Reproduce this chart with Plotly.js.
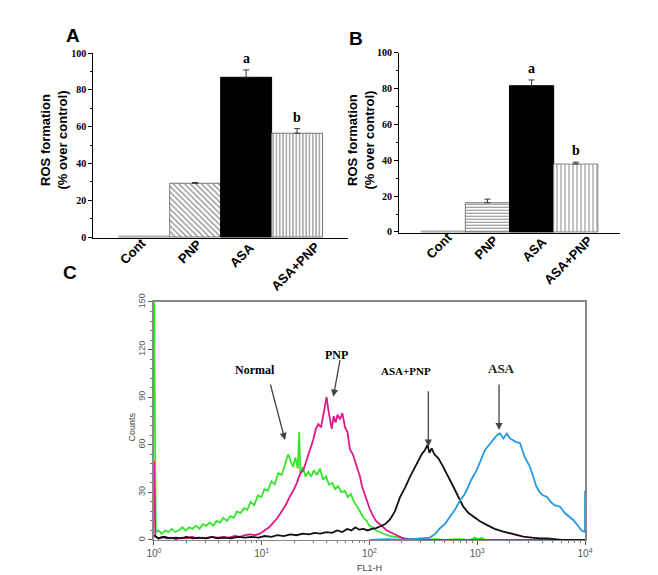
<!DOCTYPE html>
<html>
<head>
<meta charset="utf-8">
<script src="https://cdn.plot.ly/plotly-3.0.1.min.js"></script>
<style>
  html, body { margin: 0; padding: 0; background: #fff; }
  #chart { width: 658px; height: 575px; }
</style>
</head>
<body>
<div id="chart"></div>
<script>
// panel A / B: ROS formation (% over control)
const groups = ['Cont', 'PNP', 'ASA', 'ASA+PNP'];
const rosA = [0.5, 29.2, 86.8, 56.4];
const errA = [0, 0.4, 4.0, 2.5];
const rosB = [0.5, 16.3, 81.6, 37.9];
const errB = [0, 2.0, 3.2, 1.0];
const sigLetters = ['', '', 'a', 'b'];
const rosTicks = [0, 20, 40, 60, 80, 100];

// panel C: flow cytometry histograms (FL1-H vs counts)
const normalX = [1, 1.04, 1.1, 1.18, 1.27, 1.36, 1.46, 1.57, 1.7, 1.83, 1.97, 2.12, 2.28, 2.45, 2.64, 2.84, 3.05, 3.3, 3.55, 3.8, 4.1, 4.4, 4.75, 5.1, 5.5, 5.9, 6.35, 6.85, 7.35, 7.9, 8.5, 9.2, 9.9, 10.6, 11.4, 12.3, 13.2, 14.2, 15.3, 16.4, 17.6, 18.5, 19.5, 20.5, 21.6, 22.3, 22.8, 24, 25.5, 27, 28.7, 30.5, 32.5, 34.7, 37, 39.5, 42, 45, 48, 51, 55, 59, 63, 67, 72, 77, 82, 88, 94, 100, 107, 115, 124, 134, 145, 157, 170, 185, 200, 230, 270, 320, 400, 500, 650, 850, 950, 1020, 1100, 1200, 1500, 3000, 10000];
const normalY = [160, 5, 6, 4, 6, 5, 7, 5, 6, 8, 6, 8, 7, 9, 7, 10, 9, 11, 9, 12, 11, 14, 12, 15, 14, 18, 17, 20, 19, 24, 22, 28, 27, 32, 31, 37, 35, 42, 41, 48, 54, 50, 46, 52, 45, 68, 42, 46, 40, 43, 40, 44, 41, 45, 38, 40, 35, 36, 32, 34, 30, 31, 27, 29, 24, 21, 18, 14, 12, 9, 8, 6, 5, 4, 3, 2.5, 2, 1.5, 1, 0.5, 0.5, 0, 0.5, 0, 0.5, 0, 1.5, 0.5, 1.2, 0, 0, 0, 0];

const pnpX = [1, 1.03, 1.1, 1.2, 1.3, 1.45, 1.6, 1.8, 2.0, 2.25, 2.5, 2.8, 3.1, 3.5, 3.9, 4.4, 5, 5.6, 6.3, 7, 7.8, 8.7, 9.6, 10.6, 11.7, 12.8, 14, 15.3, 16.7, 18.1, 19.6, 21.2, 22.8, 24.3, 26, 28, 30, 31.8, 33.5, 35.5, 37.5, 39, 40, 41.5, 43, 44.6, 46.5, 48.5, 50.5, 53.2, 56, 59.3, 62.5, 65.9, 70, 73, 76, 79, 81.6, 85, 89, 94, 100, 108, 115, 124, 134, 145, 155, 170, 185, 203, 230, 280, 400, 10000];
const pnpY = [50, 2, 1, 2, 1, 1.5, 0.5, 1.5, 1, 2, 1, 1.5, 1, 2, 1.5, 2, 1.5, 2.5, 2, 3, 3.5, 3, 4, 6, 8, 11, 14, 18, 22, 27, 31, 36, 42, 44, 50, 58, 63, 70, 73, 71, 80, 84, 90, 82, 76, 70, 78, 74, 79, 76, 80, 71, 68, 57, 54, 50, 46, 42, 40, 34, 30, 25, 20, 15, 12, 10, 8, 6, 5, 3.5, 2.5, 1.2, 0.5, 0, 0, 0];

const comboX = [1, 1.1, 1.25, 1.4, 1.6, 1.8, 2, 2.3, 2.6, 3, 3.4, 3.9, 4.5, 5.2, 6, 7, 8, 9.3, 10.7, 12.3, 14, 16, 18.5, 21, 24, 27.5, 31, 35, 40, 45, 50, 56, 62, 68, 74, 80, 88, 96, 105, 115, 125, 140, 155, 172, 192, 214, 238, 260, 284, 305, 327, 345, 360, 378, 400, 436, 475, 520, 570, 622, 680, 742, 830, 918, 1050, 1224, 1450, 1746, 2100, 2675, 3200, 3800, 4500, 5200, 6000, 10000];
const comboY = [3, 1, 2, 1, 1.5, 1, 2, 1, 1.5, 1, 2, 1, 1.5, 1, 2, 1.5, 2, 1.5, 2.5, 2, 3, 2.5, 3.5, 3, 4, 3.5, 4.5, 4, 5, 4.5, 6, 5, 7, 6, 8, 6.5, 7, 6, 7, 7.5, 8.5, 10, 13, 18, 27, 33, 40, 45, 50, 54, 56.7, 60, 55, 57.7, 54, 51.5, 47, 42, 36, 31.5, 26, 21, 17, 14.7, 12, 9.5, 7, 5.3, 4, 2.1, 1.5, 1, 1, 0.5, 0, 0];

const asaX = [100, 150, 200, 255, 300, 364, 410, 451, 500, 559, 620, 692, 750, 798, 880, 988, 1080, 1180, 1290, 1410, 1520, 1626, 1750, 1880, 2014, 2250, 2494, 2766, 3090, 3300, 3524, 3800, 4100, 4413, 4800, 5200, 5860, 6500, 7000, 7770, 8600, 9300, 9990, 10000];
const asaY = [0, 0.5, 0, 0.7, 1, 1.5, 4, 7.4, 10, 14.7, 19, 25, 28, 31.5, 38, 44, 50, 56.7, 60, 63, 66, 67.2, 64, 67, 64, 62, 61, 52, 46, 40, 34, 30, 28, 27.3, 24, 22, 21, 17, 15, 12.6, 9, 6, 5, 31];

const decadeTicks = [1, 10, 100, 1000, 10000];
const decadeLabels = ['10<sup>0</sup>', '10<sup>1</sup>', '10<sup>2</sup>', '10<sup>3</sup>', '10<sup>4</sup>'];
const countTicks = [0, 30, 60, 90, 120, 150];

const SANS = 'Arial, "Liberation Sans", sans-serif';
const SERIF = '"Times New Roman", "Liberation Serif", serif';
const H = 575;

// fill style of each group's bar (A, B)
const styleA = [
  { bg: 'white', line: '#999', shape: '', fg: '#888', size: 4 },
  { bg: 'white', line: '#777', shape: '\\', fg: '#888', size: 4 },
  { bg: 'black', line: '#000', shape: '', fg: '#000', size: 4 },
  { bg: 'white', line: '#777', shape: '|', fg: '#777', size: 3.3 }
];
const styleB = [
  { bg: 'white', line: '#999', shape: '', fg: '#888', size: 4 },
  { bg: 'white', line: '#777', shape: '-', fg: '#777', size: 3 },
  { bg: 'black', line: '#000', shape: '', fg: '#000', size: 4 },
  { bg: 'white', line: '#888', shape: '|', fg: '#999', size: 4 }
];
// rotated group label placement (x shift from bar centre, label centre y in px)
const labelPosA = [[-11.5, 251.5], [-5.5, 251], [-4.5, 255.5], [-2, 266]];
const labelPosB = [[-4, 245.5], [-1, 247.5], [2.5, 249], [-8, 260]];

function barTraces(vals, errs, xa, ya, styles) {
  return groups.map((g, i) => {
    const st = styles[i];
    const marker = { color: st.bg, line: { color: st.line, width: 1 } };
    if (st.shape) marker.pattern = { shape: st.shape, fgcolor: st.fg, bgcolor: st.bg, size: st.size, solidity: 0.3, fillmode: 'replace' };
    return {
      type: 'bar', x: [g], y: [vals[i]], xaxis: xa, yaxis: ya, width: 1, marker: marker,
      error_y: { type: 'data', symmetric: false, array: [errs[i]], arrayminus: [0],
                 color: '#333', thickness: 1, width: 3, visible: errs[i] > 0 },
      hoverinfo: 'skip'
    };
  });
}

const traces = [].concat(
  barTraces(rosA, errA, 'x', 'y', styleA),
  barTraces(rosB, errB, 'x2', 'y2', styleB),
  [
    { type: 'scatter', mode: 'lines', x: normalX, y: normalY, xaxis: 'x3', yaxis: 'y3', line: { color: '#33e62a', width: 1.8 } },
    { type: 'scatter', mode: 'lines', x: pnpX, y: pnpY, xaxis: 'x3', yaxis: 'y3', line: { color: '#e0168a', width: 1.8 } },
    { type: 'scatter', mode: 'lines', x: comboX, y: comboY, xaxis: 'x3', yaxis: 'y3', line: { color: '#111', width: 1.8 } },
    { type: 'scatter', mode: 'lines', x: asaX, y: asaY, xaxis: 'x3', yaxis: 'y3', line: { color: '#2399e0', width: 1.8 } }
  ]
);

function rosY(domain, bottom, anchor) {
  return {
    domain: domain, anchor: anchor, range: [bottom, 100], tickmode: 'array', tickvals: rosTicks,
    ticks: 'outside', ticklen: 4, tickcolor: '#000', showline: true, linecolor: '#000', linewidth: 1,
    minor: { dtick: 10, ticks: 'outside', ticklen: 2, tickcolor: '#000' },
    tickfont: { family: SERIF, size: 10, weight: 'bold', color: '#000' },
    showgrid: false, zeroline: false, fixedrange: true
  };
}
function groupX(domain, anchor) {
  return {
    domain: domain, anchor: anchor, type: 'category', range: [-1, 4],
    showline: true, linecolor: '#000', linewidth: 1, ticks: '', showticklabels: false,
    showgrid: false, zeroline: false, fixedrange: true
  };
}

function paperText(text, x, y, font, angle) {
  return { text: text, x: x, y: y, xref: 'paper', yref: 'paper', xanchor: 'center', yanchor: 'middle',
           textangle: angle || 0, showarrow: false, font: font };
}

const annotations = [
  paperText('A', 0.1102, 0.9374, { family: SANS, size: 19, weight: 'bold', color: '#000' }),
  paperText('B', 0.5403, 0.933, { family: SANS, size: 19, weight: 'bold', color: '#000' }),
  paperText('C', 0.1071, 0.5261, { family: SANS, size: 19, weight: 'bold', color: '#000' }),
  paperText('ROS formation<br>(% over control)', 0.0828, 0.7565, { family: SANS, size: 13, weight: 'bold', color: '#000' }, -90),
  paperText('ROS formation<br>(% over control)', 0.5494, 0.7565, { family: SANS, size: 13, weight: 'bold', color: '#000' }, -90),
  paperText('Counts', 0.2002, 0.2579, { family: SANS, size: 9, color: '#444' }, -90),
  paperText('FL1-H', 0.5623, 0.0116, { family: SANS, size: 9, color: '#444' }),
  // histogram labels
  { text: 'Normal', x: 0.937, y: 107, xref: 'x3', yref: 'y3', showarrow: false, font: { family: SERIF, size: 12, weight: 'bold', color: '#000' } },
  { text: 'PNP', x: 1.696, y: 116.6, xref: 'x3', yref: 'y3', showarrow: false, font: { family: SERIF, size: 12, weight: 'bold', color: '#000' } },
  { text: 'ASA+PNP', x: 2.343, y: 106.5, xref: 'x3', yref: 'y3', showarrow: false, bgcolor: 'white', font: { family: SERIF, size: 11, weight: 'bold', color: '#000' } },
  { text: 'ASA', x: 3.227, y: 108.2, xref: 'x3', yref: 'y3', showarrow: false, font: { family: SERIF, size: 13, weight: 'bold', color: '#222' } }
];

// rotated group names under the bars
[[labelPosA, 'x'], [labelPosB, 'x2']].forEach(p => {
  groups.forEach((g, i) => {
    annotations.push({ text: g, x: g, xref: p[1], y: 1 - p[0][i][1] / H, yref: 'paper',
      xshift: p[0][i][0], xanchor: 'center', yanchor: 'middle', textangle: -45, showarrow: false,
      font: { family: SANS, size: 13, weight: 'bold', color: '#000' } });
  });
});

// arrows pointing at each histogram
[[1.216, 63, -15, -57], [1.664, 90.3, 7, -38], [2.546, 58.8, 0, -57], [3.202, 69.3, 0, -47]].forEach(a => {
  annotations.push({ text: '', x: a[0], y: a[1], xref: 'x3', yref: 'y3', ax: a[2], ay: a[3],
    showarrow: true, arrowhead: 2, arrowsize: 1.1, arrowwidth: 1.3, arrowcolor: '#444' });
});

// significance letters above the bars
[[rosA, errA, 'x', 'y'], [rosB, errB, 'x2', 'y2']].forEach(p => {
  sigLetters.forEach((s, i) => {
    if (!s) return;
    annotations.push({ text: s, x: groups[i], y: p[0][i] + p[1][i], xref: p[2], yref: p[3],
      yanchor: 'bottom', yshift: 2, showarrow: false, font: { family: SERIF, size: 14, weight: 'bold', color: '#000' } });
  });
});

const layout = {
  width: 658, height: 575,
  margin: { l: 0, r: 0, t: 0, b: 0 },
  paper_bgcolor: 'white', plot_bgcolor: 'white',
  showlegend: false, barmode: 'overlay', bargap: 0,
  xaxis: groupX([0.1418, 0.5289], 'y'),
  yaxis: rosY([0.5859, 0.9078], -0.6, 'x'),
  xaxis2: groupX([0.6064, 0.9422], 'y2'),
  yaxis2: rosY([0.5941, 0.9083], -0.8, 'x2'),
  xaxis3: {
    domain: [0.2340, 0.8891], anchor: 'y3', type: 'log', range: [0, 4],
    tickmode: 'array', tickvals: decadeTicks, ticktext: decadeLabels,
    ticks: 'outside', ticklen: 4, tickcolor: '#555',
    minor: { ticks: 'outside', ticklen: 2, tickcolor: '#777', dtick: 'D1' },
    tickfont: { family: SANS, size: 10, color: '#555' },
    showline: true, mirror: true, linecolor: '#888', linewidth: 1.5,
    showgrid: false, zeroline: false, fixedrange: true
  },
  yaxis3: {
    domain: [0.0609, 0.4748], anchor: 'x3', range: [0, 150],
    tickmode: 'array', tickvals: countTicks, tickangle: -90,
    ticks: 'outside', ticklen: 4, tickcolor: '#555',
    minor: { dtick: 6, ticks: 'outside', ticklen: 2, tickcolor: '#777' },
    tickfont: { family: SANS, size: 9, color: '#555' },
    showline: true, mirror: true, linecolor: '#888', linewidth: 1.5,
    showgrid: false, zeroline: false, fixedrange: true
  },
  annotations: annotations
};

Plotly.newPlot('chart', traces, layout, { displayModeBar: false, staticPlot: true });
</script>
</body>
</html>
